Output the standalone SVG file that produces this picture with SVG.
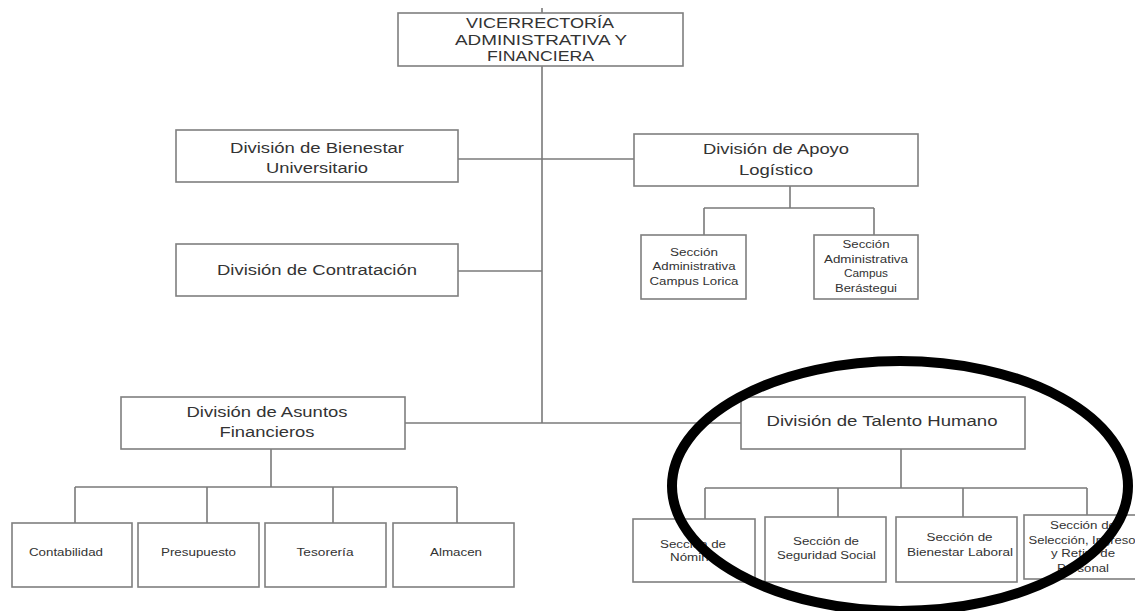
<svg xmlns="http://www.w3.org/2000/svg" width="1135" height="611" viewBox="0 0 1135 611">
<style>
.box{fill:#fff;stroke:#7f7f7f;stroke-width:1.6}
.ln{fill:none;stroke:#7a7a7a;stroke-width:1.6}
text{font-family:"Liberation Sans",Arial,sans-serif;fill:#333;text-anchor:middle}
.t15{font-size:15px}
.t14{font-size:14px}
.t10{font-size:10px}
.mark{fill:none;stroke:#000;stroke-width:10}
</style>
<rect width="1135" height="611" fill="#fff"/>
<g id="connectors">
<path class="ln" d="M542 8V13M542 66V423"/>
<path class="ln" d="M458 159H634"/>
<path class="ln" d="M458 271H542"/>
<path class="ln" d="M405 423H741"/>
<path class="ln" d="M790 186V208M704 208H874M704 208V235M874 208V235"/>
<path class="ln" d="M271 449V487M75 487H457M75 487V523M207 487V523M333 487V523M457 487V523"/>
<path class="ln" d="M901 449V488M705 488H1087M705 488V519M838 488V517M963 488V517M1087 488V515"/>
</g>
<g id="vicerrectoria">
<rect class="box" x="398" y="13" width="285" height="53"/>
<text class="t15" x="540" y="28" textLength="148" lengthAdjust="spacingAndGlyphs">VICERRECTORÍA</text>
<text class="t15" x="541" y="45" textLength="172" lengthAdjust="spacingAndGlyphs">ADMINISTRATIVA Y</text>
<text class="t15" x="540.5" y="61" textLength="107" lengthAdjust="spacingAndGlyphs">FINANCIERA</text>
</g>
<g id="bienestar-universitario">
<rect class="box" x="176" y="130" width="282" height="52"/>
<text class="t14" x="317" y="153" textLength="174" lengthAdjust="spacingAndGlyphs">División de Bienestar</text>
<text class="t14" x="317" y="173" textLength="102" lengthAdjust="spacingAndGlyphs">Universitario</text>
</g>
<g id="apoyo-logistico">
<rect class="box" x="634" y="134" width="284" height="52"/>
<text class="t14" x="776" y="154" textLength="146" lengthAdjust="spacingAndGlyphs">División de Apoyo</text>
<text class="t14" x="776" y="175" textLength="74" lengthAdjust="spacingAndGlyphs">Logístico</text>
</g>
<g id="contratacion">
<rect class="box" x="176" y="244" width="282" height="52"/>
<text class="t14" x="317" y="275" textLength="200" lengthAdjust="spacingAndGlyphs">División de Contratación</text>
</g>
<g id="campus-lorica">
<rect class="box" x="641" y="235" width="105" height="64"/>
<text class="t10" x="694" y="256" textLength="48" lengthAdjust="spacingAndGlyphs">Sección</text>
<text class="t10" x="694" y="270" textLength="83" lengthAdjust="spacingAndGlyphs">Administrativa</text>
<text class="t10" x="694" y="284.5" textLength="89" lengthAdjust="spacingAndGlyphs">Campus Lorica</text>
</g>
<g id="campus-berastegui">
<rect class="box" x="814" y="235" width="104" height="64"/>
<text class="t10" x="866" y="248" textLength="47" lengthAdjust="spacingAndGlyphs">Sección</text>
<text class="t10" x="866" y="262.5" textLength="84" lengthAdjust="spacingAndGlyphs">Administrativa</text>
<text class="t10" x="866" y="277" textLength="44" lengthAdjust="spacingAndGlyphs">Campus</text>
<text class="t10" x="866" y="291.5" textLength="62" lengthAdjust="spacingAndGlyphs">Berástegui</text>
</g>
<g id="asuntos-financieros">
<rect class="box" x="121" y="397" width="284" height="52"/>
<text class="t14" x="267" y="417" textLength="161" lengthAdjust="spacingAndGlyphs">División de Asuntos</text>
<text class="t14" x="267" y="437" textLength="95" lengthAdjust="spacingAndGlyphs">Financieros</text>
</g>
<g id="talento-humano">
<rect class="box" x="741" y="397" width="284" height="52"/>
<text class="t14" x="882" y="426" textLength="231" lengthAdjust="spacingAndGlyphs">División de Talento Humano</text>
</g>
<g id="contabilidad">
<rect class="box" x="12" y="523" width="120" height="64"/>
<text class="t10" x="66" y="555.5" textLength="74" lengthAdjust="spacingAndGlyphs">Contabilidad</text>
</g>
<g id="presupuesto">
<rect class="box" x="138" y="523" width="121" height="64"/>
<text class="t10" x="198.5" y="555.5" textLength="75" lengthAdjust="spacingAndGlyphs">Presupuesto</text>
</g>
<g id="tesoreria">
<rect class="box" x="265" y="523" width="121" height="64"/>
<text class="t10" x="325" y="555.5" textLength="57" lengthAdjust="spacingAndGlyphs">Tesorería</text>
</g>
<g id="almacen">
<rect class="box" x="393" y="523" width="121" height="64"/>
<text class="t10" x="456" y="555.5" textLength="52" lengthAdjust="spacingAndGlyphs">Almacen</text>
</g>
<g id="nomina">
<rect class="box" x="633" y="519" width="122" height="63"/>
<text class="t10" x="693" y="547.5" textLength="66" lengthAdjust="spacingAndGlyphs">Sección de</text>
<text class="t10" x="693" y="561" textLength="46" lengthAdjust="spacingAndGlyphs">Nómina</text>
</g>
<g id="seguridad-social">
<rect class="box" x="765" y="517" width="121" height="65"/>
<text class="t10" x="826" y="544.5" textLength="66" lengthAdjust="spacingAndGlyphs">Sección de</text>
<text class="t10" x="826.5" y="559" textLength="99" lengthAdjust="spacingAndGlyphs">Seguridad Social</text>
</g>
<g id="bienestar-laboral">
<rect class="box" x="896" y="517" width="121" height="65"/>
<text class="t10" x="959.5" y="540.5" textLength="66" lengthAdjust="spacingAndGlyphs">Sección de</text>
<text class="t10" x="960" y="555.5" textLength="106" lengthAdjust="spacingAndGlyphs">Bienestar Laboral</text>
</g>
<g id="seleccion">
<rect class="box" x="1024" y="515" width="117" height="64"/>
<text class="t10" x="1083" y="528.5" textLength="66" lengthAdjust="spacingAndGlyphs">Sección de</text>
<text class="t10" x="1082" y="543.5" textLength="107" lengthAdjust="spacingAndGlyphs">Selección, Ingreso</text>
<text class="t10" x="1083" y="557" textLength="64" lengthAdjust="spacingAndGlyphs">y Retiro de</text>
<text class="t10" x="1083" y="571.5" textLength="52" lengthAdjust="spacingAndGlyphs">Personal</text>
</g>
<g id="highlight">
<ellipse class="mark" cx="900" cy="486" rx="228" ry="125"/>
</g>
</svg>
